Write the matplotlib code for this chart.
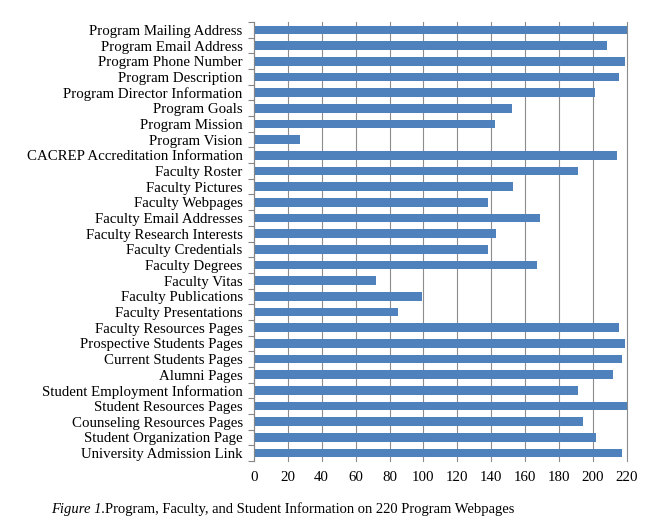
import matplotlib
matplotlib.use("Agg")
import matplotlib.pyplot as plt
import numpy as np

plt.rcParams['font.family'] = ['Liberation Serif', 'DejaVu Serif']

categories = [
    "Program Mailing Address", "Program Email Address", "Program Phone Number",
    "Program Description", "Program Director Information", "Program Goals",
    "Program Mission", "Program Vision", "CACREP Accreditation Information",
    "Faculty Roster", "Faculty Pictures", "Faculty Webpages",
    "Faculty Email Addresses", "Faculty Research Interests", "Faculty Credentials",
    "Faculty Degrees", "Faculty Vitas", "Faculty Publications",
    "Faculty Presentations", "Faculty Resources Pages", "Prospective Students Pages",
    "Current Students Pages", "Alumni Pages", "Student Employment Information",
    "Student Resources Pages", "Counseling Resources Pages", "Student Organization Page",
    "University Admission Link",
]
counts = [220, 208, 219, 215, 201, 152, 142, 27, 214, 191, 153, 138, 169, 143, 138,
          167, 72, 99, 85, 215, 219, 217, 212, 191, 220, 194, 202, 217]
xticks = list(range(0, 221, 20))

fs = 10.7

fig = plt.figure(figsize=(6.68, 5.32), dpi=100)
ax = fig.add_axes([0.380, 0.1335, 0.5586, 0.8251])

pos = np.arange(len(categories))
ax.barh(pos, counts, height=0.55, color="#4F81BD", zorder=3)

ax.set_xlim(0, 220)
ax.set_ylim(len(categories) - 0.5, -0.5)
ax.set_xticks(xticks)
ax.set_xticklabels([str(t) for t in xticks], fontsize=fs)
ax.set_yticks(pos)
ax.set_yticklabels(categories, fontsize=fs)
ax.tick_params(axis="y", length=0, pad=8)
ax.tick_params(axis="x", length=0, pad=7)
# boundary ticks on the left axis (excel style)
ax.set_yticks(np.arange(-0.5, len(categories), 1.0), minor=True)
ax.tick_params(axis="y", which="minor", length=4, color="#868686", width=0.8)

ax.grid(axis="x", color="#8c8c8c", linewidth=0.8, zorder=0)
for line in ax.get_xgridlines():
    line.set_clip_on(False)
for s in ["top", "right", "bottom"]:
    ax.spines[s].set_visible(False)
ax.spines["left"].set_color("#868686")
ax.spines["left"].set_linewidth(0.8)
ax.spines["left"].set_zorder(4)

t1 = fig.text(0.076, 0.036, "Figure 1.", fontsize=10.5, style="italic")
fig.canvas.draw()
bb = t1.get_window_extent()
fig.text(bb.x1 / fig.bbox.width, 0.036,
         "Program, Faculty, and Student Information on 220 Program Webpages", fontsize=10.5)

fig.savefig("out.png", dpi=100)
